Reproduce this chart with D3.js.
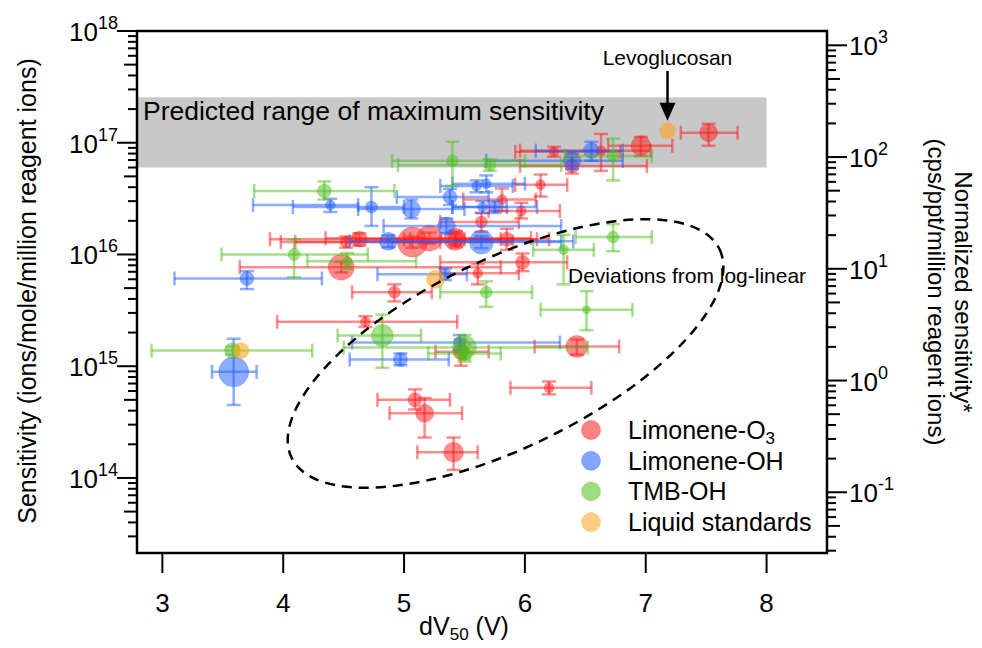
<!DOCTYPE html>
<html><head><meta charset="utf-8">
<script src="https://cdn.jsdelivr.net/npm/d3@7"></script>
<style>body{margin:0;background:#fff} text{font-family:"Liberation Sans",Arial,sans-serif;fill:#000}</style>
</head><body><svg id="c" width="982" height="648"></svg>
<script>
// ---- data ----
const xTicks = [3, 4, 5, 6, 7, 8];
const yTickExps = [14, 15, 16, 17, 18];
const yRightExps = [-1, 0, 1, 2, 3];
const seriesNames = ["Limonene-O", "Limonene-OH", "TMB-OH", "Liquid standards"];
const bandX = [2.79, 8.0];
const bandY = [6.0e16, 2.55e17];
// [x, xLo, xHi, y, yLo, yHi, n]
const limO3 = [
  [7.52, 7.29, 7.76, 1.23e17, 9.4e16, 1.48e17, 36],
  [6.96, 6.69, 7.22, 9.4e16, 7.6e16, 1.13e17, 44],
  [6.63, 5.96, 7.04, 8.5e16, 5.6e16, 1.2e17, 11],
  [6.24, 5.92, 6.79, 8.3e16, 7.5e16, 9.2e16, 11],
  [6.39, 5.96, 7.01, 6.2e16, 5.3e16, 7.5e16, 22],
  [6.13, 5.92, 6.35, 4.2e16, 3.3e16, 5.2e16, 11],
  [5.81, 5.49, 6.09, 3.1e16, 2.45e16, 3.9e16, 11],
  [5.97, 5.70, 6.29, 2.45e16, 2.1e16, 2.9e16, 11],
  [5.64, 5.30, 5.95, 1.95e16, 1.6e16, 2.35e16, 16],
  [5.85, 5.50, 6.20, 1.37e16, 1.1e16, 1.7e16, 22],
  [5.43, 5.00, 5.80, 1.37e16, 1.16e16, 1.62e16, 28],
  [5.98, 5.30, 6.35, 8.5e15, 7.1e15, 1.02e16, 22],
  [5.61, 5.30, 5.95, 6.8e15, 5.4e15, 8.2e15, 11],
  [4.63, 3.89, 5.05, 1.37e16, 1.2e16, 1.55e16, 28],
  [4.52, 3.98, 5.30, 1.29e16, 1.15e16, 1.45e16, 16],
  [5.07, 4.10, 5.90, 1.29e16, 1.15e16, 1.45e16, 100],
  [5.21, 4.35, 6.05, 1.40e16, 1.25e16, 1.57e16, 75],
  [5.42, 4.60, 6.10, 1.37e16, 1.22e16, 1.54e16, 54],
  [4.48, 3.64, 5.80, 7.7e15, 6.9e15, 8.6e15, 75],
  [4.92, 4.57, 5.23, 4.6e15, 3.8e15, 5.4e15, 16],
  [4.68, 3.95, 5.44, 2.5e15, 2.25e15, 2.8e15, 11],
  [5.09, 4.78, 5.38, 5.0e14, 4.1e14, 6.2e14, 22],
  [5.17, 4.88, 5.48, 3.8e14, 2.3e14, 5.2e14, 36],
  [5.41, 5.11, 5.61, 1.7e14, 1.18e14, 2.3e14, 44],
  [6.20, 5.88, 6.55, 6.4e14, 5.6e14, 7.3e14, 11],
  [6.43, 6.08, 6.78, 1.5e15, 1.27e15, 1.73e15, 54],
  [5.47, 5.26, 5.70, 1.35e15, 1.01e15, 1.73e15, 28]
];
const limOH = [
  [6.55, 6.09, 6.81, 8.5e16, 6.9e16, 1.02e17, 28],
  [6.39, 5.68, 6.81, 6.9e16, 5.8e16, 8.0e16, 36],
  [5.06, 4.62, 5.50, 2.55e16, 2.1e16, 3.1e16, 36],
  [4.73, 4.08, 5.00, 2.66e16, 1.8e16, 4.0e16, 16],
  [4.39, 3.75, 4.62, 2.77e16, 2.4e16, 3.15e16, 11],
  [5.35, 4.83, 6.30, 1.8e16, 1.55e16, 2.1e16, 36],
  [4.87, 4.55, 6.40, 1.31e16, 1.16e16, 1.48e16, 36],
  [3.70, 3.10, 4.32, 6.1e15, 4.9e15, 7.1e15, 22],
  [5.34, 4.78, 5.52, 6.65e15, 5.9e15, 7.5e15, 16],
  [5.64, 4.90, 6.30, 1.29e16, 1.14e16, 1.46e16, 64],
  [5.38, 4.94, 5.70, 3.27e16, 2.77e16, 3.86e16, 22],
  [5.60, 5.30, 5.90, 4.1e16, 3.6e16, 4.6e16, 11],
  [5.68, 5.40, 6.00, 4.3e16, 3.6e16, 5.1e16, 11],
  [5.75, 5.40, 6.10, 2.66e16, 2.35e16, 3.0e16, 16],
  [5.65, 5.40, 5.85, 2.66e16, 2.35e16, 3.0e16, 11],
  [3.59, 3.41, 3.78, 8.9e14, 4.5e14, 1.76e15, 100],
  [4.97, 4.55, 5.37, 1.15e15, 1.02e15, 1.3e15, 22],
  [5.46, 4.57, 6.29, 1.63e15, 1.4e15, 1.9e15, 16]
];
const tmbOH = [
  [6.73, 6.33, 7.05, 7.6e16, 4.6e16, 1.09e17, 16],
  [5.71, 4.95, 6.30, 6.3e16, 5.6e16, 7.1e16, 16],
  [5.40, 4.90, 6.00, 6.9e16, 4.1e16, 1.02e17, 16],
  [4.34, 3.76, 4.92, 3.7e16, 3.1e16, 4.5e16, 22],
  [4.09, 3.49, 4.70, 1.0e16, 6.25e15, 1.37e16, 16],
  [4.53, 4.20, 5.10, 8.7e15, 7.4e15, 1.03e16, 11],
  [6.73, 6.42, 7.05, 1.43e16, 1.07e16, 1.87e16, 16],
  [6.32, 6.07, 6.57, 1.1e16, 5.4e15, 1.5e16, 11],
  [5.68, 5.30, 6.06, 4.6e15, 3.4e15, 5.75e15, 16],
  [6.51, 6.13, 6.89, 3.2e15, 2.1e15, 4.7e15, 7],
  [4.82, 4.45, 5.14, 1.88e15, 9.7e14, 2.9e15, 54],
  [5.50, 4.50, 6.52, 1.47e15, 1.15e15, 1.9e15, 64],
  [3.58, 2.91, 4.24, 1.38e15, 1.27e15, 1.5e15, 28],
  [5.50, 5.20, 5.80, 1.3e15, 1.1e15, 1.55e15, 22]
];
// [x, y, n]
const liquid = [
  [7.18, 1.28e17, 28],
  [3.65, 1.38e15, 28],
  [5.26, 6.0e15, 36]
];
const ellipseCenter = [5.84, 1.3e15];

// ---- chart ----
const svg = d3.select("#c");
const L = 137, R = 827, T = 31, B = 553;
const x = d3.scaleLinear().domain([2.79, 8.5]).range([L, R]);
const y = d3.scaleLog().domain([2.13e13, 1e18]).range([B, T]);
const conv = 1.343e-15;
const yR = d3.scaleLog().domain([2.13e13 * conv, 1e18 * conv]).range([B, T]);
const rScale = d3.scaleSqrt().domain([0, 100]).range([0, 15]);

const colors = ["#ff1a1a", "#1f5cff", "#4cbf1a", "#ffa31a"];

// band
svg.append("rect")
  .attr("x", x(bandX[0])).attr("width", x(bandX[1]) - x(bandX[0]))
  .attr("y", y(bandY[1])).attr("height", y(bandY[0]) - y(bandY[1]))
  .attr("fill", "#c8c8c8");
svg.append("text").attr("x", 143).attr("y", 120)
  .attr("font-size", 26.5).text("Predicted range of maximum sensitivity");

// series with error bars
const cap = 7;
function drawSeries(data, color) {
  const g = svg.append("g");
  const eb = g.append("g").attr("stroke", color).attr("stroke-opacity", 0.5)
    .attr("stroke-width", 2.5).attr("fill", "none");
  data.forEach(d => {
    const cx = x(d[0]), cy = y(d[3]);
    eb.append("line").attr("x1", x(d[1])).attr("x2", x(d[2])).attr("y1", cy).attr("y2", cy);
    eb.append("line").attr("x1", x(d[1])).attr("x2", x(d[1])).attr("y1", cy - cap).attr("y2", cy + cap);
    eb.append("line").attr("x1", x(d[2])).attr("x2", x(d[2])).attr("y1", cy - cap).attr("y2", cy + cap);
    eb.append("line").attr("x1", cx).attr("x2", cx).attr("y1", y(d[4])).attr("y2", y(d[5]));
    eb.append("line").attr("x1", cx - cap).attr("x2", cx + cap).attr("y1", y(d[4])).attr("y2", y(d[4]));
    eb.append("line").attr("x1", cx - cap).attr("x2", cx + cap).attr("y1", y(d[5])).attr("y2", y(d[5]));
  });
  g.selectAll("circle").data(data).join("circle")
    .attr("cx", d => x(d[0])).attr("cy", d => y(d[3])).attr("r", d => rScale(d[6]))
    .attr("fill", color).attr("fill-opacity", 0.5)
    .attr("stroke", color).attr("stroke-opacity", 0.25).attr("stroke-width", 1);
}
drawSeries(limO3, colors[0]);
drawSeries(limOH, colors[1]);
drawSeries(tmbOH, colors[2]);
svg.append("g").selectAll("circle").data(liquid).join("circle")
  .attr("cx", d => x(d[0])).attr("cy", d => y(d[1])).attr("r", d => rScale(d[2]))
  .attr("fill", colors[3]).attr("fill-opacity", 0.6)
  .attr("stroke", colors[3]).attr("stroke-opacity", 0.3);

// ellipse
svg.append("ellipse")
  .attr("transform", `translate(${x(ellipseCenter[0])},${y(ellipseCenter[1])}) rotate(-26)`)
  .attr("rx", 238).attr("ry", 94)
  .attr("fill", "none").attr("stroke", "#000").attr("stroke-width", 2.5)
  .attr("stroke-dasharray", "10,7");
svg.append("text").attr("x", 568).attr("y", 283).attr("font-size", 21)
  .text("Deviations from log-linear");

// Levoglucosan annotation
const lev = liquid[0];
svg.append("text").attr("x", x(lev[0])).attr("y", 65).attr("text-anchor", "middle")
  .attr("font-size", 21).text("Levoglucosan");
svg.append("line").attr("x1", x(lev[0])).attr("x2", x(lev[0]))
  .attr("y1", 71).attr("y2", y(lev[1]) - 24).attr("stroke", "#000").attr("stroke-width", 2.5);
{
  const ax = x(lev[0]), ay = y(lev[1]) - 10;
  svg.append("path").attr("d", `M${ax - 8},${ay - 18} L${ax + 8},${ay - 18} L${ax},${ay} Z`).attr("fill", "#000");
}

// legend
const lg = svg.append("g");
seriesNames.forEach((s, i) => {
  const ly = 430 + i * 30.7;
  lg.append("circle").attr("cx", 591).attr("cy", ly).attr("r", 9.5)
    .attr("fill", colors[i]).attr("fill-opacity", 0.55)
    .attr("stroke", colors[i]).attr("stroke-opacity", 0.3);
  const t = lg.append("text").attr("x", 628).attr("y", ly + 9).attr("font-size", 25).text(s);
  if (i === 0) t.append("tspan").attr("dy", 5).attr("font-size", 17).text("3");
});

// axes ticks
const tk = svg.append("g").attr("stroke", "#000").attr("stroke-width", 2);
function tickLen(v) {
  const m = Math.round(v / Math.pow(10, Math.floor(Math.log10(v) + 1e-9)));
  return m === 1 ? 20 : (m === 5 ? 13 : 9);
}
y.ticks().forEach(v => {
  const p = y(v); if (p < T - 0.5 || p > B + 0.5) return;
  tk.append("line").attr("x1", L - tickLen(v)).attr("x2", L).attr("y1", p).attr("y2", p);
});
yR.ticks().forEach(v => {
  const p = yR(v); if (p < T - 0.5 || p > B + 0.5) return;
  tk.append("line").attr("x1", R).attr("x2", R + tickLen(v)).attr("y1", p).attr("y2", p);
});
xTicks.forEach(v => {
  tk.append("line").attr("x1", x(v)).attr("x2", x(v)).attr("y1", B).attr("y2", B + 20);
});

// frame
svg.append("rect").attr("x", L).attr("y", T).attr("width", R - L).attr("height", B - T)
  .attr("fill", "none").attr("stroke", "#000").attr("stroke-width", 2.5);

// tick labels
yTickExps.forEach(e => {
  const t = svg.append("text").attr("x", 118).attr("y", y(Math.pow(10, e)) + 10)
    .attr("text-anchor", "end").attr("font-size", 26);
  t.append("tspan").text("10");
  t.append("tspan").attr("dy", -12).attr("font-size", 18).text(e);
});
yRightExps.forEach(e => {
  const t = svg.append("text").attr("x", 849).attr("y", yR(Math.pow(10, e)) + 10)
    .attr("font-size", 26);
  t.append("tspan").text("10");
  t.append("tspan").attr("dy", -12).attr("font-size", 18).text(e);
});
xTicks.forEach(v => {
  svg.append("text").attr("x", x(v)).attr("y", 612).attr("text-anchor", "middle")
    .attr("font-size", 26).text(v);
});

// axis titles
{
  const t = svg.append("text").attr("x", 464).attr("y", 635).attr("text-anchor", "middle").attr("font-size", 25);
  t.append("tspan").text("dV");
  t.append("tspan").attr("dy", 5).attr("font-size", 17).text("50");
  t.append("tspan").attr("dy", -5).text(" (V)");
}
svg.append("text").attr("transform", "translate(36,291) rotate(-90)").attr("text-anchor", "middle")
  .attr("font-size", 25).text("Sensitivity (ions/mole/million reagent ions)");
svg.append("text").attr("transform", "translate(955,292) rotate(90)").attr("text-anchor", "middle")
  .attr("font-size", 24).text("Normalized sensitivity*");
svg.append("text").attr("transform", "translate(928,292) rotate(90)").attr("text-anchor", "middle")
  .attr("font-size", 24).text("(cps/ppt/million reagent ions)");
</script></body></html>
